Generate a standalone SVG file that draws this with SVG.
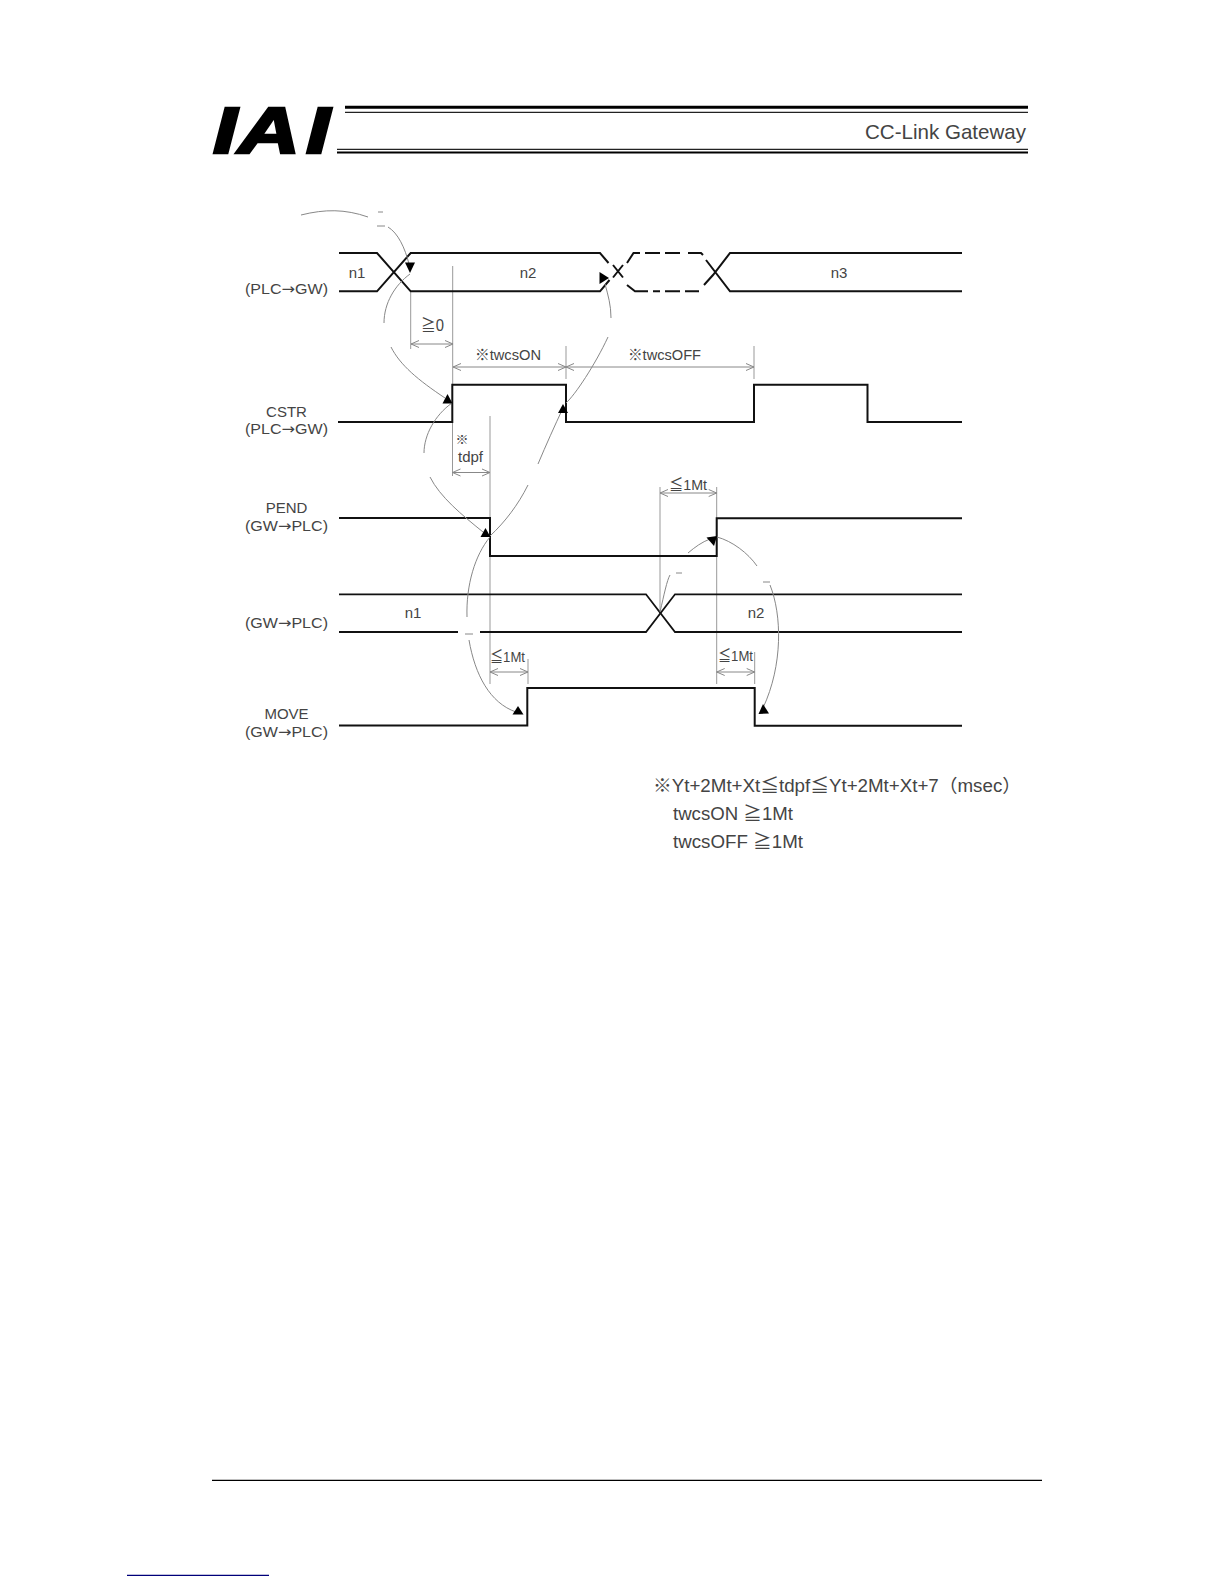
<svg xmlns="http://www.w3.org/2000/svg" width="1224" height="1584" viewBox="0 0 1224 1584">
<style>
text{font-family:"Liberation Sans","Noto Sans CJK JP",sans-serif;fill:#444;font-size:15px}
.c{text-anchor:middle}
.ar{font-family:"DejaVu Sans",sans-serif}
.logo{font-family:"Liberation Sans",sans-serif;font-size:65px;font-weight:bold;font-style:italic;fill:#000;stroke:#000;stroke-width:2.5}
.s{fill:none;stroke:#111;stroke-width:2}
.g{fill:none;stroke:#999;stroke-width:1}
.a{fill:none;stroke:#888;stroke-width:1;marker-start:url(#op);marker-end:url(#op)}
.u{fill:none;stroke:#888;stroke-width:1}
.h{fill:#000;stroke:none}
.n{font-size:18px}
</style>
<defs>
<marker id="op" viewBox="-9 -5 10 10" refX="0" refY="0" markerWidth="10" markerHeight="10" markerUnits="userSpaceOnUse" orient="auto-start-reverse"><path d="M-8,-3.5 L0,0 L-8,3.5" fill="none" stroke="#888" stroke-width="1"/></marker>
</defs>
<rect width="1224" height="1584" fill="#fff"/>
<g id="header">
<text class="logo" x="213" y="153" textLength="24" lengthAdjust="spacingAndGlyphs">I</text>
<text class="logo" x="238" y="153" textLength="62" lengthAdjust="spacingAndGlyphs">A</text>
<text class="logo" x="306" y="153" textLength="24" lengthAdjust="spacingAndGlyphs">I</text>
<path d="M345,107.3H1028" stroke="#000" stroke-width="3"/>
<path d="M345,112.3H1028" stroke="#222" stroke-width="1.3"/>
<path d="M337,149.3H1028" stroke="#222" stroke-width="1.3"/>
<path d="M337,152.5H1028" stroke="#000" stroke-width="2"/>
<text x="865" y="138.5" textLength="161" lengthAdjust="spacingAndGlyphs" style="font-size:21px">CC-Link Gateway</text>
</g>
<g id="guides">
<path class="g" d="M410.7,291V349M452.7,266V384M566,346V379M754,346V379M452.5,422V476M490,416V684M528,659V684M660,487V613M716.7,487V684M754.7,652V684"/>
</g>
<g id="bus-plc">
<path class="s" d="M339,253H377L410.7,291.3H600L609.5,280"/>
<path class="s" d="M339,291.3H377L410.7,253H600L608.5,263"/>
<path class="s" d="M613,265L623,277.5M623,265L613,277.5"/>
<path class="s" d="M627,263L633.5,253H640M645,253H660M665,253H680M688,253H701L703,255"/>
<path class="s" d="M627,285L635,291.3H648M653,291.3H660M665,291.3H680M685,291.3H699"/>
<path class="s" d="M706,260L730,291.3H962M704,285L713,275L730,253H962"/>
<text class="c" x="357" y="278">n1</text>
<text class="c" x="528" y="278">n2</text>
<text class="c" x="839" y="278">n3</text>
<text x="245" y="294" textLength="83" lengthAdjust="spacingAndGlyphs">(PLC<tspan class="ar">→</tspan>GW)</text>
</g>
<g id="cstr">
<path class="s" d="M338,422H452.3V384.7H566V422H754V384.7H867.5V422H962"/>
<text class="c" x="286.5" y="417">CSTR</text>
<text x="245" y="434" textLength="83" lengthAdjust="spacingAndGlyphs">(PLC<tspan class="ar">→</tspan>GW)</text>
</g>
<g id="pend">
<path class="s" d="M339,518H490V556H716.7V518.3H962"/>
<text class="c" x="286.5" y="513">PEND</text>
<text x="245" y="531" textLength="83" lengthAdjust="spacingAndGlyphs">(GW<tspan class="ar">→</tspan>PLC)</text>
</g>
<g id="bus-gw">
<path class="s" d="M339,594.3H646L675,632H962" style="stroke-width:1.8"/>
<path class="s" d="M339,632H458M480,632H646L675,594.3H962" style="stroke-width:1.8"/>
<text class="c" x="413" y="618">n1</text>
<text class="c" x="756" y="618">n2</text>
<text x="245" y="628" textLength="83" lengthAdjust="spacingAndGlyphs">(GW<tspan class="ar">→</tspan>PLC)</text>
</g>
<g id="move">
<path class="s" d="M339,725.4H527.3V688H754.7V725.7H962"/>
<text class="c" x="286.5" y="719">MOVE</text>
<text x="245" y="737" textLength="83" lengthAdjust="spacingAndGlyphs">(GW<tspan class="ar">→</tspan>PLC)</text>
</g>
<g id="connectors">
<path class="a" d="M411,344H453"/>
<path class="a" d="M453,367H566"/>
<path class="a" d="M566,367H754"/>
<path class="a" d="M452.5,472.5H490"/>
<path class="a" d="M490,672H528"/>
<path class="a" d="M660,493H716.7"/>
<path class="a" d="M716.7,672H754.7"/>
<path class="u" d="M301,215C325,209 345,209 368,217M378,212H383M377,226H385M388,227C398,233 405,248 409,264"/>
<path class="u" d="M410,274C395,285 384,303 384,323M391,347C400,365 418,380 445,398"/>
<path class="u" d="M452,403C435,415 424,435 424,453M430,477C440,497 462,515 483,532"/>
<path class="u" d="M490,536C505,522 518,505 528,485M538,464C546,445 555,425 563,408"/>
<path class="u" d="M566,403C575,395 595,365 608,337M611,318C611,305 608,295 605,284"/>
<path class="u" d="M490,537C475,555 466,585 467,617M465,634H473M469,640C475,675 490,703 516,712"/>
<path class="u" d="M660,612C664,595 667,580 670,575M676,573H682M688,553C695,547 702,542 710,539"/>
<path class="u" d="M717,537C732,541 748,553 757,566M763,582H770M770,585C782,615 783,665 763,708"/>
<polygon class="h" points="405,262.5 415,262.5 410,273"/>
<polygon class="h" points="599.5,272 609,278 599.5,284"/>
<polygon class="h" points="447.5,394 442.5,403.5 452.5,403.5"/>
<polygon class="h" points="485.5,528 480.5,537 490.5,537"/>
<polygon class="h" points="563,404 558,413 568,413"/>
<polygon class="h" points="518,706 512.5,714.5 523.5,714.5"/>
<polygon class="h" points="706.5,537.5 717,536 714,546"/>
<polygon class="h" points="763,704 769,713.5 758.5,714"/>
</g>
<g id="labels">
<text x="421" y="331" textLength="23" lengthAdjust="spacingAndGlyphs" style="font-size:16px">≧0</text>
<text x="475" y="360" textLength="66" lengthAdjust="spacingAndGlyphs">※twcsON</text>
<text x="628" y="360" textLength="73" lengthAdjust="spacingAndGlyphs">※twcsOFF</text>
<text class="c" x="462" y="444" style="font-size:13px">※</text>
<text class="c" x="470.5" y="462">tdpf</text>
<text x="490" y="662" textLength="35" lengthAdjust="spacingAndGlyphs">≦1Mt</text>
<text x="669" y="490" textLength="38" lengthAdjust="spacingAndGlyphs">≦1Mt</text>
<text x="718" y="661" textLength="35" lengthAdjust="spacingAndGlyphs">≦1Mt</text>
<text class="n" x="653" y="792" textLength="368" lengthAdjust="spacingAndGlyphs">※Yt+2Mt+Xt≦tdpf≦Yt+2Mt+Xt+7（msec）</text>
<text class="n" x="673" y="820" textLength="120" lengthAdjust="spacingAndGlyphs">twcsON ≧1Mt</text>
<text class="n" x="673" y="848" textLength="130" lengthAdjust="spacingAndGlyphs">twcsOFF ≧1Mt</text>
</g>
<g id="footer">
<path d="M212,1480.3H1042" stroke="#000" stroke-width="1.2"/>
<path d="M127,1575.3H269" stroke="#00007a" stroke-width="1.2"/>
</g>
</svg>
